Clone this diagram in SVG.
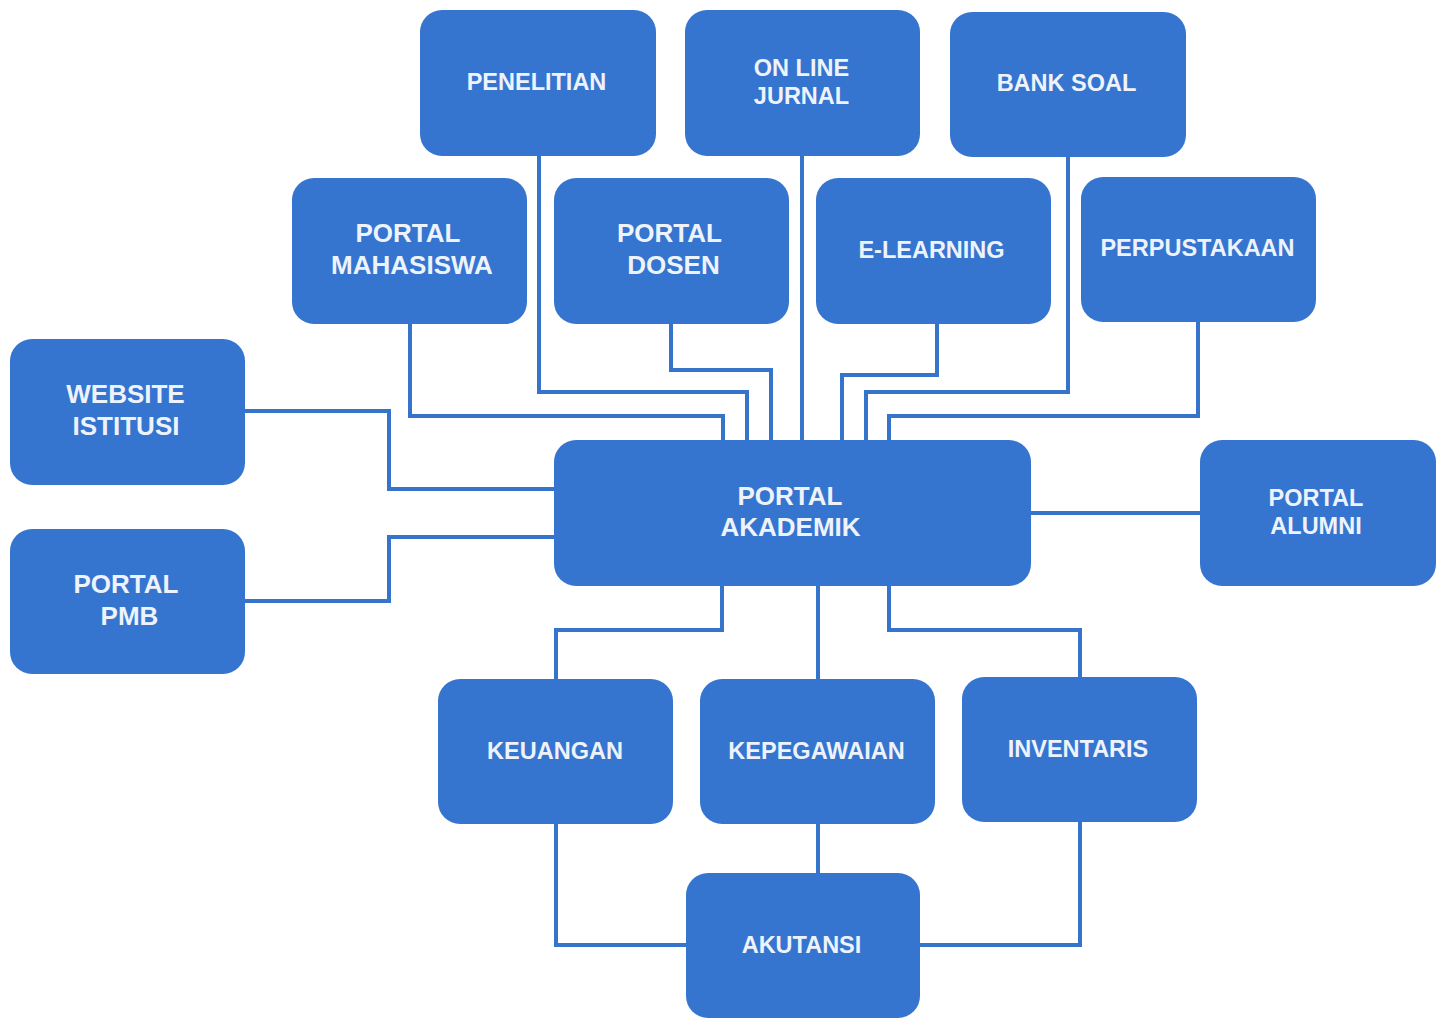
<svg xmlns="http://www.w3.org/2000/svg" width="1441" height="1024" viewBox="0 0 1441 1024">
<style>
.box{fill:#3575cf;}
.t{font-family:"Liberation Sans",Arial,sans-serif;font-weight:bold;fill:#eef3fb;text-anchor:middle;font-size:23.5px;}
.tl{font-size:26px;}
.c{fill:none;stroke:#3674cc;stroke-width:4;}
</style>
<rect width="1441" height="1024" fill="#ffffff"/>
<g id="connectors">
<path class="c" d="M410,324 V416 H723 V440"/>
<path class="c" d="M539,156 V392 H747 V440"/>
<path class="c" d="M671,324 V370 H771 V440"/>
<path class="c" d="M802,156 V440"/>
<path class="c" d="M937,324 V375 H842 V440"/>
<path class="c" d="M1068,157 V392 H866 V440"/>
<path class="c" d="M1198,322 V416 H889 V440"/>
<path class="c" d="M245,411 H389 V489 H554"/>
<path class="c" d="M245,601 H389 V537 H554"/>
<path class="c" d="M1031,513 H1200"/>
<path class="c" d="M722,586 V630 H556 V679"/>
<path class="c" d="M818,586 V679"/>
<path class="c" d="M889,586 V630 H1080 V677"/>
<path class="c" d="M556,824 V945 H686"/>
<path class="c" d="M818,824 V873"/>
<path class="c" d="M1080,822 V945 H920"/>
</g>
<g id="penelitian"><rect class="box" x="420" y="10" width="236" height="146" rx="22"/><text class="t" x="536.5" y="90">PENELITIAN</text></g>
<g id="online-jurnal"><rect class="box" x="685" y="10" width="235" height="146" rx="22"/><text class="t" x="801.5" y="75.5">ON LINE</text><text class="t" x="801.5" y="104">JURNAL</text></g>
<g id="bank-soal"><rect class="box" x="950" y="12" width="236" height="145" rx="22"/><text class="t" x="1066.5" y="90.5">BANK SOAL</text></g>
<g id="portal-mahasiswa"><rect class="box" x="292" y="178" width="235" height="146" rx="22"/><text class="t tl" x="408" y="242">PORTAL</text><text class="t tl" x="412" y="274">MAHASISWA</text></g>
<g id="portal-dosen"><rect class="box" x="554" y="178" width="235" height="146" rx="22"/><text class="t tl" x="669.5" y="242">PORTAL</text><text class="t tl" x="673.5" y="274">DOSEN</text></g>
<g id="e-learning"><rect class="box" x="816" y="178" width="235" height="146" rx="22"/><text class="t" x="931.5" y="257.5">E-LEARNING</text></g>
<g id="perpustakaan"><rect class="box" x="1081" y="177" width="235" height="145" rx="22"/><text class="t" x="1197.5" y="255.5">PERPUSTAKAAN</text></g>
<g id="website-istitusi"><rect class="box" x="10" y="339" width="235" height="146" rx="22"/><text class="t tl" x="125.5" y="403">WEBSITE</text><text class="t tl" x="126" y="435">ISTITUSI</text></g>
<g id="portal-pmb"><rect class="box" x="10" y="529" width="235" height="145" rx="22"/><text class="t tl" x="126" y="593">PORTAL</text><text class="t tl" x="129.5" y="625">PMB</text></g>
<g id="portal-akademik"><rect class="box" x="554" y="440" width="477" height="146" rx="22"/><text class="t tl" x="790" y="505">PORTAL</text><text class="t tl" x="790.5" y="536">AKADEMIK</text></g>
<g id="portal-alumni"><rect class="box" x="1200" y="440" width="236" height="146" rx="22"/><text class="t" x="1316" y="505.5">PORTAL</text><text class="t" x="1316" y="533.5">ALUMNI</text></g>
<g id="keuangan"><rect class="box" x="438" y="679" width="235" height="145" rx="22"/><text class="t" x="555" y="758.5">KEUANGAN</text></g>
<g id="kepegawaian"><rect class="box" x="700" y="679" width="235" height="145" rx="22"/><text class="t" x="816.5" y="758.5">KEPEGAWAIAN</text></g>
<g id="inventaris"><rect class="box" x="962" y="677" width="235" height="145" rx="22"/><text class="t" x="1078" y="756.5">INVENTARIS</text></g>
<g id="akutansi"><rect class="box" x="686" y="873" width="234" height="145" rx="22"/><text class="t" x="801.5" y="952.5">AKUTANSI</text></g>
</svg>
